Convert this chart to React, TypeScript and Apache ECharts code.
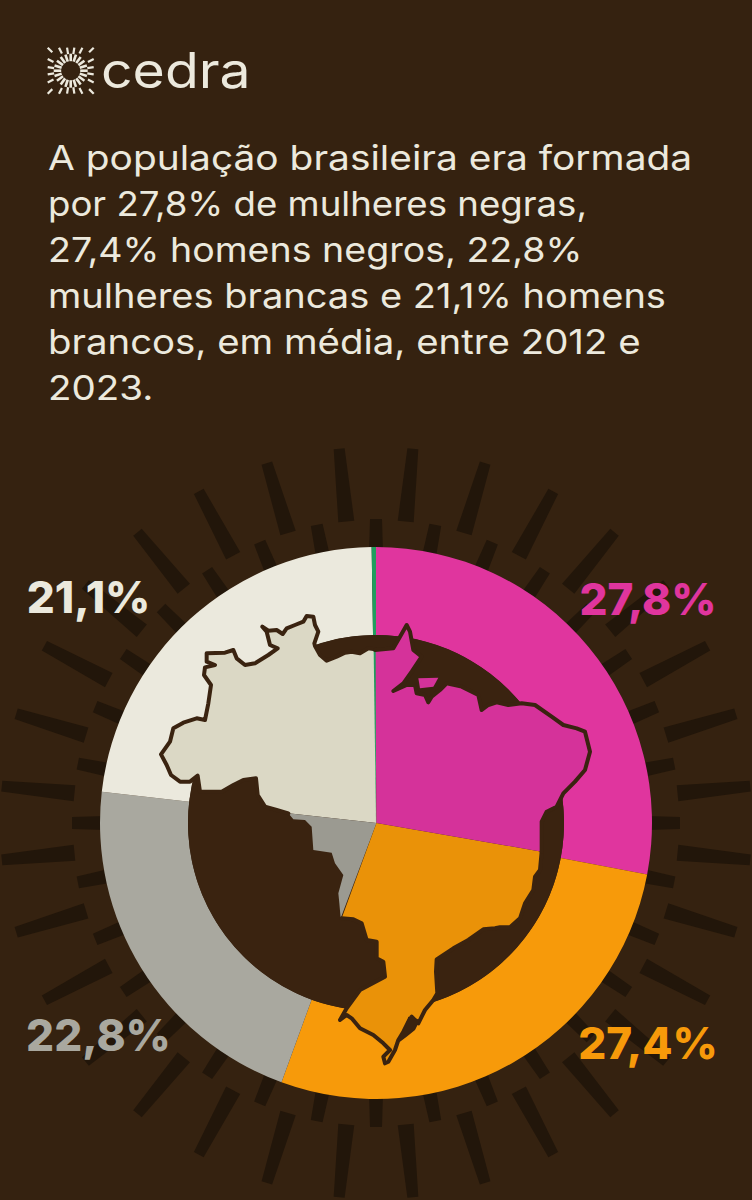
import React, { useEffect, useRef } from "react";
import * as echarts from "echarts";

const sliceNames = ["Mulheres negras", "Homens negros", "Cinza", "Creme", "Outros"];
const sliceValues = [27.8, 27.4, 21.1, 22.8, 0.25];
const sliceLabels = ["27,8%", "27,4%", "22,8%", "21,1%", ""];
const sliceColors = ["#e0359e", "#f79a0a", "#a9a89f", "#ebe9dd", "#1f9e5e"];
const labelSpots = [
  [648, 599],
  [648, 1043],
  [98.5, 1035],
  [88.5, 597],
  [0, 0],
];
const titleLines = [
  "A população brasileira era formada",
  "por 27,8% de mulheres negras,",
  "27,4% homens negros, 22,8%",
  "mulheres brancas e 21,1% homens",
  "brancos, em média, entre 2012 e",
  "2023.",
];
const titleStretch = [1.144, 1.077, 1.105, 1.119, 1.129, 1.133];

const BG = "#352210";
const HOLE = "#3a2310";
const RAY = "#22160a";
const INK = "#ece9dd";
const FONT = "Inter, 'Noto Sans', sans-serif";
const CX = 376;
const CY = 823;

type P = number[];
const at = (ox: number, oy: number, pts: P[]) => pts.map(([x, y]) => [ox + x / 3, oy + y / 3]);

const coastNW = [
  ...at(155, 610, [
    [660, 118], [640, 115], [615, 130], [590, 125], [570, 128], [545, 140], [515, 152], [495, 135],
    [480, 108], [478, 100], [490, 65], [480, 45], [475, 20], [455, 18], [445, 35], [420, 45],
    [395, 55], [383, 72], [365, 60], [340, 62], [322, 50], [335, 65], [345, 105], [368, 115],
    [340, 135], [300, 160], [270, 165], [245, 145], [235, 120], [210, 128], [155, 130], [155, 155],
    [180, 165], [150, 172], [147, 195], [168, 225], [160, 280], [150, 330], [125, 325], [85, 338],
    [55, 355], [45, 395], [18, 433], [35, 465], [48, 495], [75, 515], [105, 515], [128, 497],
    [135, 545], [200, 545], [235, 525], [265, 510], [303, 505], [308, 555], [330, 590], [365, 600],
  ]),
  ...at(250, 770, [[115, 130]]),
];
const centerTop: P[] = [[376.5, 823]];

const coastGrey = at(250, 770, [
  [115, 130], [130, 148], [165, 150], [185, 170], [190, 240], [245, 248], [255, 280], [280, 315],
  [265, 370], [268, 400], [272, 445],
]);

const coastSouth = at(340, 840, [
  [605, 35], [600, 90], [585, 110], [580, 150], [555, 190], [540, 235], [510, 262], [480, 262],
  [465, 265], [430, 268], [385, 300], [340, 325], [290, 358], [288, 395], [292, 460], [280, 480],
  [255, 510], [235, 550], [215, 530], [205, 545], [190, 575], [175, 600], [165, 630], [145, 665],
  [135, 670], [130, 650], [150, 630], [130, 610], [100, 585], [60, 565], [35, 535], [20, 525],
  [0, 540], [20, 505], [60, 450], [135, 410], [130, 365], [110, 355], [110, 305], [80, 300],
  [65, 250], [40, 238], [5, 235],
]);

const coastNE = at(375, 615, [
  [500, 710], [500, 620], [515, 590], [545, 575], [565, 535], [600, 500], [630, 465], [645, 410],
  [630, 350], [605, 340], [565, 330], [530, 305], [480, 270], [440, 265], [400, 270], [365, 262],
  [340, 270], [320, 285], [310, 240], [260, 215], [215, 205], [195, 225], [170, 245], [160, 262],
  [150, 240], [125, 235], [120, 210], [95, 210], [55, 228], [85, 205], [110, 170], [140, 125],
  [115, 105], [105, 50], [95, 30], [75, 65], [55, 100], [0, 105],
]);

const marajo = at(375, 615, [[130, 190], [190, 188], [175, 215], [135, 220]]);
const lagoon = at(340, 840, [
  [205, 530], [225, 535], [240, 540], [225, 570], [200, 590], [180, 605], [172, 600], [195, 560],
]);
const greenSliver = at(150, 600, [[671, 152], [677, 152], [678, 670]]);

const MAP_LIGHT = "#dbd8c5";
const MAP_PINK = "#d5329a";
const MAP_ORANGE = "#ea9208";
const MAP_GREY = "#9b9a91";

function polar(deg: number, r: number) {
  const a = (deg * Math.PI) / 180;
  return [CX + r * Math.sin(a), CY - r * Math.cos(a)];
}

function taperedBar(deg: number, r1: number, w1: number, r2: number, w2: number) {
  const a = (deg * Math.PI) / 180;
  const nx = Math.cos(a);
  const ny = Math.sin(a);
  const [x1, y1] = polar(deg, r1);
  const [x2, y2] = polar(deg, r2);
  return [
    [x1 - (nx * w1) / 2, y1 - (ny * w1) / 2],
    [x1 + (nx * w1) / 2, y1 + (ny * w1) / 2],
    [x2 + (nx * w2) / 2, y2 + (ny * w2) / 2],
    [x2 - (nx * w2) / 2, y2 - (ny * w2) / 2],
  ];
}

function buildRays() {
  const out: any[] = [];
  for (let i = 0; i < 32; i++) {
    out.push({
      type: "polygon",
      z: 0,
      silent: true,
      shape: { points: taperedBar(5.625 + i * 11.25, 303, 16, 376, 11) },
      style: { fill: RAY },
    });
    out.push({
      type: "polygon",
      z: 0,
      silent: true,
      shape: { points: taperedBar(i * 11.25, 270, 14, 304, 12) },
      style: { fill: RAY },
    });
  }
  return out;
}

function buildLogo() {
  const out: any[] = [];
  const lx = 70.7;
  const ly = 70.7;
  const seg = (deg: number, r1: number, r2: number, w: number) => {
    const a = (deg * Math.PI) / 180;
    out.push({
      type: "line",
      z: 20,
      silent: true,
      shape: { x1: lx + r1 * Math.cos(a), y1: ly + r1 * Math.sin(a), x2: lx + r2 * Math.cos(a), y2: ly + r2 * Math.sin(a) },
      style: { stroke: INK, lineWidth: w },
    });
  };
  for (let i = 0; i < 20; i++) {
    const d = i * 18;
    seg(d, 9.5, 17, 2.6);
    const dd = d + 9;
    const a = (dd * Math.PI) / 180;
    const edge = 23 / Math.max(Math.abs(Math.cos(a)), Math.abs(Math.sin(a)));
    seg(dd, edge - 6.5, edge, 2.2);
  }
  return out;
}

function buildMap() {
  const fill = (pts: P[], color: string) => ({
    type: "polygon",
    z: 10,
    silent: true,
    shape: { points: pts },
    style: { fill: color },
  });
  const edge = (pts: P[]) => ({
    type: "polyline",
    z: 11,
    silent: true,
    shape: { points: pts },
    style: { fill: "none", stroke: HOLE, lineWidth: 4, lineJoin: "round", lineCap: "round" },
  });
  return [
    fill([...coastNW, ...centerTop], MAP_LIGHT),
    fill([...coastGrey, ...centerTop], MAP_GREY),
    fill([...coastSouth, ...centerTop], MAP_ORANGE),
    fill([...coastNE, ...centerTop], MAP_PINK),
    fill(greenSliver, sliceColors[4]),
    edge(coastNW),
    edge(coastSouth),
    edge(coastNE),
    { ...fill(marajo, MAP_PINK), z: 12 },
    { ...fill(lagoon, HOLE), z: 12 },
  ];
}

export default function App() {
  const ref = useRef<HTMLDivElement | null>(null);
  useEffect(() => {
    if (!ref.current) return;
    const chart = echarts.init(ref.current, undefined, { renderer: "svg" });
    chart.setOption({
      animation: false,
      backgroundColor: BG,
      graphic: {
        elements: [
          ...buildRays(),
          { type: "circle", z: 5, silent: true, shape: { cx: CX, cy: CY, r: 188 }, style: { fill: HOLE } },
          ...buildMap(),
          ...buildLogo(),
          {
            type: "text",
            z: 20,
            x: 101,
            y: 70,
            scaleX: 1.13,
            silent: true,
            style: { text: "cedra", fill: INK, fontFamily: FONT, fontSize: 49, fontWeight: 400, textAlign: "left", textVerticalAlign: "middle" },
          },
          ...titleLines.map((line, i) => ({
            type: "text",
            z: 20,
            x: 48,
            y: 158 + i * 46,
            scaleX: titleStretch[i],
            silent: true,
            style: { text: line, fill: INK, fontFamily: FONT, fontSize: 34, fontWeight: 400, textAlign: "left", textVerticalAlign: "middle" },
          })),
        ],
      },
      series: [
        {
          type: "pie",
          z: 3,
          silent: true,
          center: [CX, CY],
          radius: [188, 276],
          startAngle: 90,
          clockwise: true,
          avoidLabelOverlap: false,
          labelLine: { show: false },
          label: {
            show: true,
            position: "outside",
            fontFamily: FONT,
            fontSize: 44,
            fontWeight: 800,
            formatter: (p: any) => sliceLabels[p.dataIndex],
          },
          labelLayout: (p: any) => ({
            x: labelSpots[p.dataIndex][0],
            y: labelSpots[p.dataIndex][1],
            align: "center",
            verticalAlign: "middle",
          }),
          data: sliceValues.map((value, i) => ({
            name: sliceNames[i],
            value,
            itemStyle: { color: sliceColors[i] },
            label: { color: sliceColors[i], show: sliceLabels[i] !== "" },
          })),
        },
      ],
    });
    return () => chart.dispose();
  }, []);
  return <div ref={ref} style={{ position: "absolute", left: 0, top: 0, width: 752, height: 1200 }} />;
}
